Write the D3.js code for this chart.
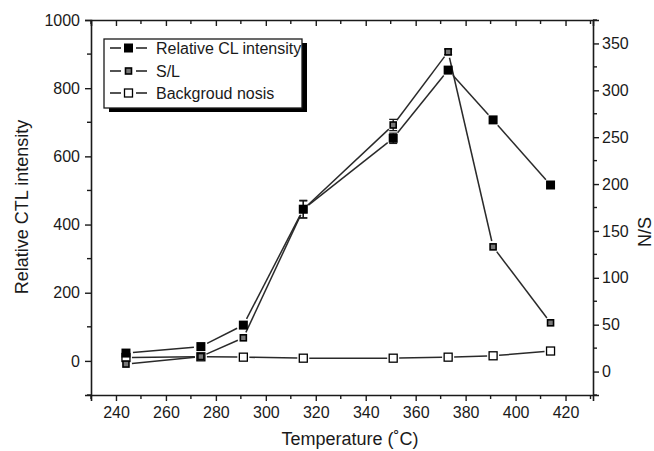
<!DOCTYPE html>
<html><head><meta charset="utf-8">
<script src="https://cdn.jsdelivr.net/npm/d3@7"></script>
<style>
body{margin:0;background:#fff;}
svg{display:block;font-family:"Liberation Sans",Arial,sans-serif;}
</style></head><body>
<script>
const temps = [244, 274, 291, 315, 351, 373, 391, 414];
const clIntensity = [23, 42, 105, 445, 653, 853, 707, 516];
const clError = [0, 0, 0, 26, 15, 0, 0, 0];
const slRatio = [8, 16, 36, 173, 263, 341, 133, 52];
const slError = [0, 0, 0, 9, 6, 3, 0, 0];
const background = [10, 12, 11, 8, 8, 11, 15, 29];
const xTicks = [240, 260, 280, 300, 320, 340, 360, 380, 400, 420];
const yLeftTicks = [0, 200, 400, 600, 800, 1000];
const yRightTicks = [0, 50, 100, 150, 200, 250, 300, 350];
const legendLabels = ["Relative CL intensity", "S/L", "Backgroud nosis"];

const W = 654, H = 451;
const m = {left: 91, right: 593, top: 20, bottom: 395};
const svg = d3.select("body").append("svg").attr("width", W).attr("height", H);

const x = d3.scaleLinear().domain([230, 431]).range([m.left, m.right]);
const yL = d3.scaleLinear().domain([-100, 1000]).range([m.bottom, m.top]);
const yR = d3.scaleLinear().domain([-25, 375]).range([m.bottom, m.top]);

const ink = "#1a1a1a";
const fs = 16;
const fmt = d3.format("d");

function styleAxis(g){
  g.selectAll("path.domain").attr("stroke", ink).attr("stroke-width", 1.6);
  g.selectAll(".tick line").attr("stroke", ink).attr("stroke-width", 1.4);
  g.selectAll(".tick text").attr("fill", ink).style("font-size", fs + "px").style("font-family", '"Liberation Sans",Arial,sans-serif');
}
const xMinor = d3.range(230, 431, 10).filter(v => v % 20 !== 0);
// bottom axis
const gb = svg.append("g").attr("transform", `translate(0,${m.bottom})`)
  .call(d3.axisBottom(x).tickValues(xTicks).tickSize(6).tickPadding(6).tickFormat(fmt));
styleAxis(gb);
gb.selectAll(".minor").data(xMinor).enter().append("line")
  .attr("x1", d => x(d)).attr("x2", d => x(d)).attr("y1", 0).attr("y2", 4)
  .attr("stroke", ink).attr("stroke-width", 1.4);
// top axis
const gt = svg.append("g").attr("transform", `translate(0,${m.top})`)
  .call(d3.axisTop(x).tickValues(xTicks).tickSize(-6).tickFormat(""));
styleAxis(gt);
gt.selectAll(".minor").data(xMinor).enter().append("line")
  .attr("x1", d => x(d)).attr("x2", d => x(d)).attr("y1", 0).attr("y2", 4)
  .attr("stroke", ink).attr("stroke-width", 1.4);
// left axis
const yLMinor = d3.range(-100, 1001, 100).filter(v => v % 200 !== 0);
const gl = svg.append("g").attr("transform", `translate(${m.left},0)`)
  .call(d3.axisLeft(yL).tickValues(yLeftTicks).tickSize(6).tickPadding(5).tickFormat(fmt));
styleAxis(gl);
gl.selectAll(".minor").data(yLMinor).enter().append("line")
  .attr("x1", 0).attr("x2", -4).attr("y1", d => yL(d)).attr("y2", d => yL(d))
  .attr("stroke", ink).attr("stroke-width", 1.4);
// right axis
const yRMinor = d3.range(-25, 376, 25).filter(v => v % 50 !== 0);
const gr = svg.append("g").attr("transform", `translate(${m.right},0)`)
  .call(d3.axisRight(yR).tickValues(yRightTicks).tickSize(6).tickPadding(3).tickFormat(fmt));
styleAxis(gr);
gr.selectAll(".minor").data(yRMinor).enter().append("line")
  .attr("x1", 0).attr("x2", 4).attr("y1", d => yR(d)).attr("y2", d => yR(d))
  .attr("stroke", ink).attr("stroke-width", 1.4);

// axis titles
svg.append("text").attr("x", 350).attr("y", 445).attr("text-anchor", "middle")
  .style("font-size", "18px").attr("fill", ink).text("Temperature (\u02DAC)");
svg.append("text").attr("transform", "translate(28,207) rotate(-90)").attr("text-anchor", "middle")
  .style("font-size", "18px").attr("fill", ink).text("Relative CTL intensity");
svg.append("text").attr("transform", "translate(651,232) rotate(-90)").attr("text-anchor", "middle")
  .style("font-size", "18px").attr("fill", ink).text("N/S");

// helper: polyline with gaps at markers
function gappedLine(pts, gap){
  const g = svg.append("g");
  for (let i = 0; i < pts.length - 1; i++){
    const [x0, y0] = pts[i], [x1, y1] = pts[i+1];
    const dx = x1 - x0, dy = y1 - y0, L = Math.hypot(dx, dy);
    if (L <= 2 * gap) continue;
    const ux = dx / L, uy = dy / L;
    g.append("line").attr("x1", x0 + ux*gap).attr("y1", y0 + uy*gap)
      .attr("x2", x1 - ux*gap).attr("y2", y1 - uy*gap)
      .attr("stroke", "#2a2a2a").attr("stroke-width", 1.5);
  }
}

const clPts = temps.map((t, i) => [x(t), yL(clIntensity[i])]);
const slPts = temps.map((t, i) => [x(t), yR(slRatio[i])]);
const bgPts = temps.map((t, i) => [x(t), yL(background[i])]);

gappedLine(bgPts, 6);
gappedLine(slPts, 6);
gappedLine(clPts, 7);

// error bars
function errBars(vals, errs, scale){
  const g = svg.append("g");
  temps.forEach((t, i) => {
    if (!errs[i]) return;
    const cx = x(t), yt = scale(vals[i] + errs[i]), yb = scale(vals[i] - errs[i]);
    g.append("line").attr("x1", cx).attr("x2", cx).attr("y1", yt).attr("y2", yb).attr("stroke", ink).attr("stroke-width", 1.3);
    [yt, yb].forEach(yy => g.append("line").attr("x1", cx-4).attr("x2", cx+4).attr("y1", yy).attr("y2", yy).attr("stroke", ink).attr("stroke-width", 1.3));
  });
}
errBars(clIntensity, clError, yL);
errBars(slRatio, slError, yR);

// markers
function marker(g, cx, cy, type){
  if (type === 0){
    g.append("rect").attr("x", cx-4.5).attr("y", cy-4.5).attr("width", 9).attr("height", 9).attr("fill", "#000");
  } else if (type === 1){
    g.append("rect").attr("x", cx-3).attr("y", cy-3).attr("width", 6).attr("height", 6)
      .attr("fill", "#777").attr("stroke", "#000").attr("stroke-width", 1.6);
  } else {
    g.append("rect").attr("x", cx-4).attr("y", cy-4).attr("width", 8).attr("height", 8)
      .attr("fill", "#fff").attr("stroke", "#000").attr("stroke-width", 1.3);
  }
}
const gm = svg.append("g");
bgPts.forEach(p => marker(gm, p[0], p[1], 2));
slPts.forEach(p => marker(gm, p[0], p[1], 1));
clPts.forEach(p => marker(gm, p[0], p[1], 0));

// legend
const lg = svg.append("g");
const lx0 = 104, ly0 = 39, lw = 198, lh = 69;
lg.append("rect").attr("x", lx0+5).attr("y", ly0+4).attr("width", lw).attr("height", lh).attr("fill", "#000");
lg.append("rect").attr("x", lx0).attr("y", ly0).attr("width", lw).attr("height", lh)
  .attr("fill", "#fff").attr("stroke", ink).attr("stroke-width", 1.3);
const rows = [48, 71, 93];
legendLabels.forEach((lab, i) => {
  const ry = rows[i];
  lg.append("line").attr("x1", 110).attr("x2", 121).attr("y1", ry).attr("y2", ry).attr("stroke", ink).attr("stroke-width", 1.5);
  lg.append("line").attr("x1", 136).attr("x2", 147).attr("y1", ry).attr("y2", ry).attr("stroke", ink).attr("stroke-width", 1.5);
  marker(lg, 128.5, ry, i);
  lg.append("text").attr("x", 156).attr("y", ry + 6).style("font-size", "16px").attr("fill", ink).text(lab);
});
</script>
</body></html>
